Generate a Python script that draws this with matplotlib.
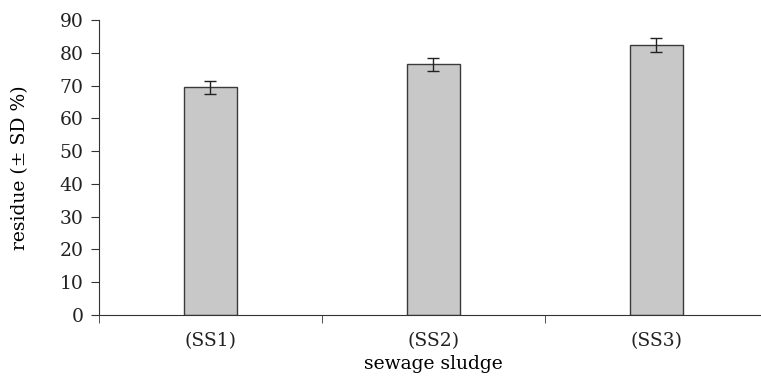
import numpy as np
import matplotlib.pyplot as plt

labels = ['(SS1)', '(SS2)', '(SS3)']
residue = [69.5, 76.5, 82.3]
sd = [2.0, 2.0, 2.2]

plt.rcParams['font.family'] = ['DejaVu Serif']
plt.rcParams['font.size'] = 13.5
plt.rcParams['text.color'] = '#222222'
plt.rcParams['xtick.labelcolor'] = '#222222'
plt.rcParams['ytick.labelcolor'] = '#222222'

fig = plt.figure(figsize=(7.61, 3.76), dpi=100)
ax = fig.add_axes([0.130, 0.162, 0.879, 0.785])

x = np.arange(len(labels))
ax.bar(x, residue, width=0.24, color='#c8c8c8', edgecolor='#3a3a3a', linewidth=1.0,
       yerr=sd, error_kw=dict(ecolor='#222222', elinewidth=1.0, capsize=4, capthick=1.0))

ax.set_xlim(-0.5, 2.5)
ax.set_ylim(0, 90)
ax.set_yticks(np.arange(0, 91, 10))

# category labels centred, tick marks on the boundaries
ax.set_xticks(x)
ax.set_xticklabels(labels)
ax.tick_params(axis='x', which='major', length=0, pad=12)
ax.set_xticks([-0.5, 0.5, 1.5, 2.5], minor=True)
ax.tick_params(axis='x', which='minor', length=6, direction='out', color='#333333')
ax.tick_params(axis='y', length=6, direction='out', color='#333333', pad=5)

for s in ['top', 'right']:
    ax.spines[s].set_visible(False)
for s in ['left', 'bottom']:
    ax.spines[s].set_color('#333333')

ax.set_ylabel('residue (± SD %)', labelpad=22)
ax.set_xlabel('sewage sludge', labelpad=4)

fig.savefig('out.png', dpi=100)
